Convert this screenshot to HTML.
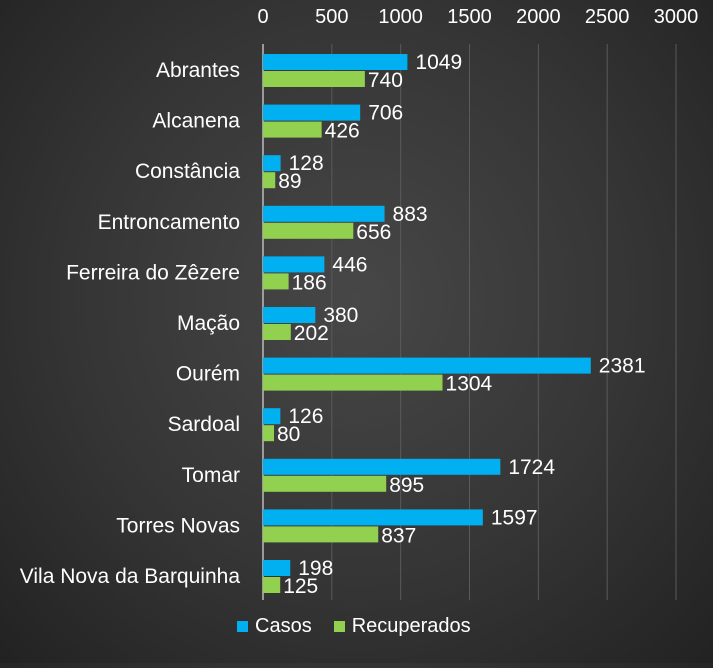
<!DOCTYPE html>
<html><head><meta charset="utf-8"><style>
html,body{margin:0;padding:0;}
body{width:713px;height:663px;overflow:hidden;background:radial-gradient(ellipse at 50% 45%,#474747 0%,#353535 55%,#222 100%);font-family:"Liberation Sans",sans-serif;}
svg text{font-family:"Liberation Sans",sans-serif;fill:#fff;}
</style></head><body>
<svg id="chart" width="713" height="663" xmlns="http://www.w3.org/2000/svg"></svg>
<script>
const categories=["Abrantes","Alcanena","Constância","Entroncamento","Ferreira do Zêzere","Mação","Ourém","Sardoal","Tomar","Torres Novas","Vila Nova da Barquinha"];
const casos=[1049,706,128,883,446,380,2381,126,1724,1597,198];
const recuperados=[740,426,89,656,186,202,1304,80,895,837,125];
const ticks=[0,500,1000,1500,2000,2500,3000];
const svg=document.getElementById('chart');
const NS="http://www.w3.org/2000/svg";
const x0=263,x1=676,maxV=3000;
const xs=v=>x0+(v/maxV)*(x1-x0);
const rowY=i=>70+i*50.6;
function mk(t,a){const e=document.createElementNS(NS,t);for(const k in a)e.setAttribute(k,a[k]);svg.appendChild(e);return e;}
ticks.forEach(t=>{
  const l=mk('line',{x1:xs(t),x2:xs(t),y1:44,y2:600,stroke:t===0?'#bbb':'#5a5a5a','stroke-width':t===0?1.5:1});
  
  
  const tx=mk('text',{x:xs(t),y:23,'text-anchor':'middle','font-size':20});
  tx.textContent=t;
  
  
});
categories.forEach((c,i)=>{
  const y=rowY(i);
  const lb=mk('text',{x:240,y:y+7,'text-anchor':'end','font-size':21,textLength:(c.length>0?null:0)});
  lb.removeAttribute('textLength');
  lb.textContent=c;
  
  
  const b=mk('rect',{x:x0,y:y-16,width:xs(casos[i])-x0,height:16,fill:'#00b0f0'});
  
  
  const g=mk('rect',{x:x0,y:y+1,width:xs(recuperados[i])-x0,height:16,fill:'#92d050'});
  
  
  const t1=mk('text',{x:xs(casos[i])+8,y:y-1,'font-size':21});
  t1.textContent=casos[i];
  
  
  const t2=mk('text',{x:xs(recuperados[i])+3,y:y+17,'font-size':21});
  t2.textContent=recuperados[i];
  
  
});
</script>
<div style="position:absolute;left:237px;top:615px;font-size:20px;color:#fff;display:flex;align-items:center;">
<span style="display:flex;align-items:center;"><span style="width:11px;height:11px;background:#00b0f0;display:inline-block;margin-right:7px"></span>Casos</span>
<span style="display:flex;align-items:center;margin-left:22px;"><span style="width:11px;height:11px;background:#92d050;display:inline-block;margin-right:7px"></span>Recuperados</span>
</div>
</body></html>
